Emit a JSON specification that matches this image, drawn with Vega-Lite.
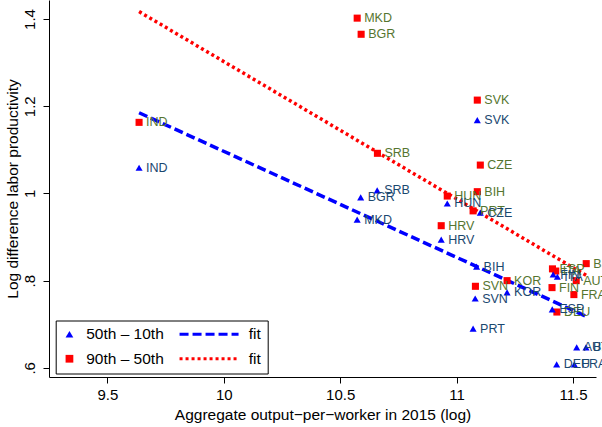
{
  "$schema": "https://vega.github.io/schema/vega-lite/v6.json",
  "width": 547,
  "height": 377,
  "autosize": {"type": "none"},
  "padding": {"left": 49, "top": 0, "right": 6, "bottom": 50},
  "background": "white",
  "datasets": {
    "pts": [
      {"country": "IND", "x": 9.636, "y": 1.163, "series": "90th – 50th"},
      {"country": "MKD", "x": 10.573, "y": 1.402, "series": "90th – 50th"},
      {"country": "BGR", "x": 10.590, "y": 1.365, "series": "90th – 50th"},
      {"country": "SRB", "x": 10.660, "y": 1.092, "series": "90th – 50th"},
      {"country": "HUN", "x": 10.960, "y": 0.994, "series": "90th – 50th"},
      {"country": "HRV", "x": 10.934, "y": 0.926, "series": "90th – 50th"},
      {"country": "PRT", "x": 11.071, "y": 0.960, "series": "90th – 50th"},
      {"country": "BIH", "x": 11.089, "y": 1.004, "series": "90th – 50th"},
      {"country": "SVK", "x": 11.089, "y": 1.214, "series": "90th – 50th"},
      {"country": "CZE", "x": 11.102, "y": 1.065, "series": "90th – 50th"},
      {"country": "SVN", "x": 11.081, "y": 0.787, "series": "90th – 50th"},
      {"country": "KOR", "x": 11.217, "y": 0.800, "series": "90th – 50th"},
      {"country": "ESP", "x": 11.412, "y": 0.827, "series": "90th – 50th"},
      {"country": "ITA", "x": 11.426, "y": 0.822, "series": "90th – 50th"},
      {"country": "FIN", "x": 11.410, "y": 0.784, "series": "90th – 50th"},
      {"country": "DEU", "x": 11.431, "y": 0.728, "series": "90th – 50th"},
      {"country": "AUT", "x": 11.514, "y": 0.800, "series": "90th – 50th"},
      {"country": "FRA", "x": 11.504, "y": 0.768, "series": "90th – 50th"},
      {"country": "BEL", "x": 11.557, "y": 0.839, "series": "90th – 50th"},
      {"country": "IND", "x": 9.636, "y": 1.059, "series": "50th – 10th"},
      {"country": "MKD", "x": 10.573, "y": 0.940, "series": "50th – 10th"},
      {"country": "BGR", "x": 10.588, "y": 0.991, "series": "50th – 10th"},
      {"country": "SRB", "x": 10.659, "y": 1.007, "series": "50th – 10th"},
      {"country": "HUN", "x": 10.960, "y": 0.977, "series": "50th – 10th"},
      {"country": "HRV", "x": 10.934, "y": 0.894, "series": "50th – 10th"},
      {"country": "PRT", "x": 11.071, "y": 0.690, "series": "50th – 10th"},
      {"country": "CZE", "x": 11.102, "y": 0.956, "series": "50th – 10th"},
      {"country": "BIH", "x": 11.086, "y": 0.832, "series": "50th – 10th"},
      {"country": "SVK", "x": 11.089, "y": 1.168, "series": "50th – 10th"},
      {"country": "SVN", "x": 11.080, "y": 0.759, "series": "50th – 10th"},
      {"country": "KOR", "x": 11.217, "y": 0.773, "series": "50th – 10th"},
      {"country": "ESP", "x": 11.411, "y": 0.734, "series": "50th – 10th"},
      {"country": "FIN", "x": 11.415, "y": 0.814, "series": "50th – 10th"},
      {"country": "ITA", "x": 11.433, "y": 0.809, "series": "50th – 10th"},
      {"country": "DEU", "x": 11.430, "y": 0.608, "series": "50th – 10th"},
      {"country": "FRA", "x": 11.506, "y": 0.608, "series": "50th – 10th"},
      {"country": "AUT", "x": 11.516, "y": 0.647, "series": "50th – 10th"},
      {"country": "BEL", "x": 11.556, "y": 0.647, "series": "50th – 10th"}
    ],
    "fits": [
      {"fit": "fit5010", "x": 9.636, "y": 1.185},
      {"fit": "fit5010", "x": 11.557, "y": 0.718},
      {"fit": "fit9050", "x": 9.636, "y": 1.417},
      {"fit": "fit9050", "x": 11.557, "y": 0.812}
    ]
  },
  "layer": [
    {
      "data": {"name": "fits"},
      "mark": {"type": "line", "strokeWidth": 3.5, "strokeCap": "butt"},
      "encoding": {
        "x": {"field": "x", "type": "quantitative", "scale": {"domain": [9.249, 11.599], "nice": false, "zero": false},
          "axis": {"values": [9.5, 10, 10.5, 11, 11.5], "labelExpr": "toString(datum.value)", "title": "Aggregate output−per−worker in 2015 (log)", "labelPadding": 4, "titlePadding": 5}},
        "y": {"field": "y", "type": "quantitative", "scale": {"domain": [0.579, 1.4436], "nice": false, "zero": false},
          "axis": {"values": [0.6, 0.8, 1, 1.2, 1.4], "labelExpr": "datum.value < 1 ? replace(toString(datum.value), '0.', '.') : toString(datum.value)", "labelAngle": 270, "labelAlign": "center", "labelBaseline": "bottom", "labelPadding": 6, "title": "Log difference labor productivity", "titlePadding": 2}},
        "stroke": {"field": "fit", "type": "nominal",
          "scale": {"domain": ["fit5010", "fit9050"], "range": ["#0000ff", "#ff0000"]},
          "legend": {"orient": "none", "legendX": 6.7, "legendY": 320.5, "title": null, "labelExpr": "'fit'", "padding": 6, "rowPadding": 7.5, "symbolOffset": 139.6, "labelOffset": 32, "symbolType": "M-5.9,0H5.9", "symbolSize": 100, "symbolStrokeWidth": 3, "symbolFillColor": "transparent", "labelFontSize": 15.5, "labelFont": "Liberation Sans", "labelColor": "black", "strokeColor": "black"}},
        "strokeDash": {"field": "fit", "type": "nominal",
          "scale": {"domain": ["fit5010", "fit9050"], "range": [[9, 4], [3, 3]]},
          "legend": {"orient": "none", "legendX": 6.7, "legendY": 320.5, "title": null, "labelExpr": "'fit'", "padding": 6, "rowPadding": 7.5, "symbolOffset": 139.6, "labelOffset": 32, "symbolType": "M-5.9,0H5.9", "symbolSize": 100, "symbolStrokeWidth": 3, "symbolFillColor": "transparent", "labelFontSize": 15.5, "labelFont": "Liberation Sans", "labelColor": "black", "strokeColor": "black"}}
      }
    },
    {
      "data": {"name": "pts"},
      "mark": {"type": "point", "filled": true, "size": 50, "opacity": 1},
      "encoding": {
        "x": {"field": "x", "type": "quantitative"},
        "y": {"field": "y", "type": "quantitative"},
        "color": {"field": "series", "type": "nominal",
          "scale": {"domain": ["50th – 10th", "90th – 50th"], "range": ["#0000ff", "#ff0000"]},
          "legend": {"orient": "none", "legendX": 6.7, "legendY": 320.5, "title": null, "padding": 6, "rowPadding": 7.5, "labelOffset": 9, "symbolSize": 60, "symbolStrokeWidth": 0, "labelFontSize": 15.5, "labelFont": "Liberation Sans", "labelColor": "black", "labelLimit": 400}},
        "shape": {"field": "series", "type": "nominal",
          "scale": {"domain": ["50th – 10th", "90th – 50th"], "range": ["triangle-up", "square"]},
          "legend": {"orient": "none", "legendX": 6.7, "legendY": 320.5, "title": null, "padding": 6, "rowPadding": 7.5, "labelOffset": 9, "symbolSize": 60, "symbolStrokeWidth": 0, "labelFontSize": 15.5, "labelFont": "Liberation Sans", "labelColor": "black", "labelLimit": 400}}
      }
    },
    {
      "data": {"name": "pts"},
      "mark": {"type": "text", "align": "left", "baseline": "middle", "dx": 7, "fontSize": 12.5, "font": "Liberation Sans"},
      "encoding": {
        "x": {"field": "x", "type": "quantitative"},
        "y": {"field": "y", "type": "quantitative"},
        "text": {"field": "country"},
        "fill": {"field": "series", "type": "nominal",
          "scale": {"domain": ["50th – 10th", "90th – 50th"], "range": ["#1a476f", "#55752f"]},
          "legend": null}
      }
    }
  ],
  "config": {
    "view": {"stroke": null},
    "axis": {
      "grid": false,
      "domainColor": "black",
      "tickColor": "black",
      "labelColor": "black",
      "titleColor": "black",
      "labelFont": "Liberation Sans",
      "titleFont": "Liberation Sans",
      "labelFontSize": 15,
      "titleFontSize": 15.5,
      "titleFontWeight": "normal",
      "tickSize": 6,
      "domainWidth": 1,
      "tickWidth": 1
    }
  }
}
